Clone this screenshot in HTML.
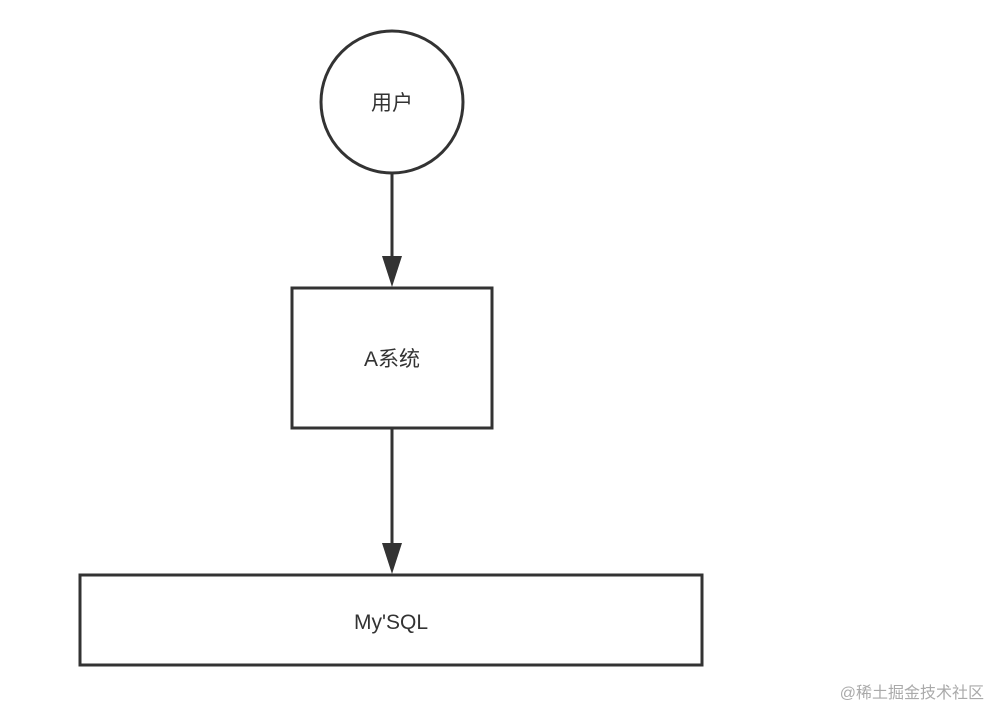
<!DOCTYPE html>
<html><head><meta charset="utf-8"><style>
html,body{margin:0;padding:0;background:#fff;}
svg{display:block}
text{font-family:"Liberation Sans","Noto Sans CJK SC",sans-serif;fill:#333;}
</style></head><body>
<svg width="1000" height="724" viewBox="0 0 1000 724">
<circle cx="392" cy="102" r="71" fill="#fff" stroke="#333" stroke-width="3"/>
<text x="392" y="110" font-size="21" text-anchor="middle">用户</text>
<line x1="392" y1="173" x2="392" y2="262" stroke="#333" stroke-width="3"/>
<polygon points="382,256 402,256 392,287" fill="#333"/>
<rect x="292" y="288" width="200" height="140" fill="#fff" stroke="#333" stroke-width="3"/>
<text x="392" y="366" font-size="21" text-anchor="middle">A系统</text>
<line x1="392" y1="428" x2="392" y2="548" stroke="#333" stroke-width="3"/>
<polygon points="382,543 402,543 392,574" fill="#333"/>
<rect x="80" y="575" width="622" height="90" fill="#fff" stroke="#333" stroke-width="3"/>
<text x="391" y="629" font-size="21" text-anchor="middle">My'SQL</text>
<text x="984" y="698" font-size="16" text-anchor="end" fill="#999" style="fill:#aaa">@稀土掘金技术社区</text>
</svg>
</body></html>
